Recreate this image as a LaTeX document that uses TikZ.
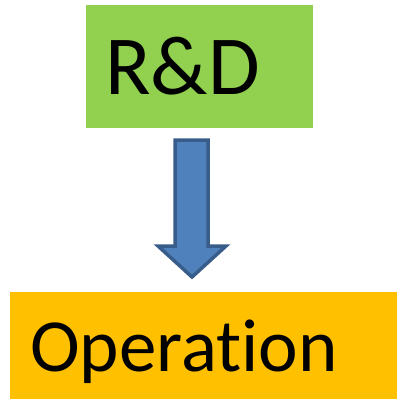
\documentclass[tikz,border=0pt]{standalone}
\usepackage{fontspec}
\setmainfont[Ligatures=NoCommon]{Carlito}
\definecolor{rdgreen}{HTML}{92D050}
\definecolor{opyellow}{HTML}{FFC000}
\definecolor{arrfill}{HTML}{4F81BD}
\definecolor{arrline}{HTML}{385D8A}
\begin{document}
\begin{tikzpicture}[x=1pt,y=-1pt,
  boxstyle/.style={draw=none,inner sep=0pt,anchor=north west},
  labelstyle/.style={inner sep=0pt,anchor=base west,text=black},
  blockarrow/.style={fill=arrfill,draw=arrline,line width=3.5pt,line join=miter}]
\useasboundingbox (0,0) rectangle (397,399);
\node[boxstyle,fill=rdgreen,minimum width=227pt,minimum height=123pt] (rd) at (86,5) {};
\node[labelstyle,font=\fontsize{84}{84}\selectfont] (rdt) at (105,94) {R\&D};
\node[boxstyle,fill=opyellow,minimum width=387pt,minimum height=107pt] (op) at (10,292) {};
\node[labelstyle,font=\fontsize{75}{75}\selectfont] (opt) at (30,371) {Operation};
\coordinate (a1) at (175,140);
\coordinate (tip) at (192,277);
\draw[blockarrow] (a1) -- (208,140) -- (208,246) -- (226,246) -- (tip) -- (158,246) -- (175,246) -- cycle;
\end{tikzpicture}
\end{document}
